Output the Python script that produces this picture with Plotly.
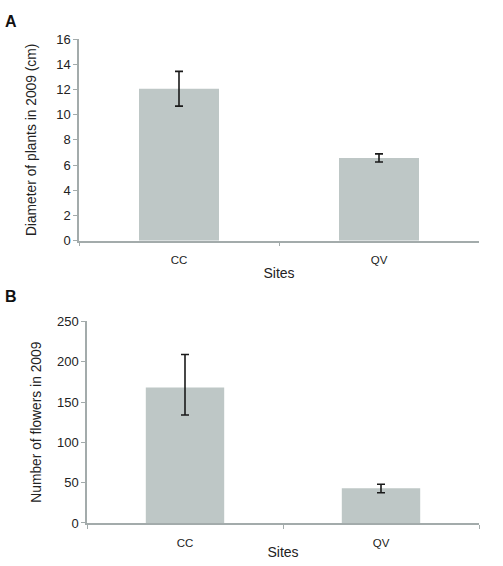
import plotly.graph_objects as go

sites = ["CC", "QV"]
diameter = [12.06, 6.57]
diameter_err_plus = [1.38, 0.32]
diameter_err_minus = [1.38, 0.32]
flowers = [168, 43]
flowers_err_plus = [41, 5]
flowers_err_minus = [34, 5.5]

W, H = 503, 566
bar_color = "#bec7c6"
axis_color = "#a3abab"
font_fam = "Liberation Sans, Arial, sans-serif"

fig = go.Figure()
fig.add_trace(go.Bar(
    x=sites, y=diameter, marker=dict(color=bar_color, line=dict(width=0)),
    error_y=dict(type="data", array=diameter_err_plus, arrayminus=diameter_err_minus,
                 color="#1a1a1a", thickness=1.6, width=4),
    xaxis="x", yaxis="y", showlegend=False))
fig.add_trace(go.Bar(
    x=sites, y=flowers, marker=dict(color=bar_color, line=dict(width=0)),
    error_y=dict(type="data", array=flowers_err_plus, arrayminus=flowers_err_minus,
                 color="#1a1a1a", thickness=1.6, width=4),
    xaxis="x2", yaxis="y2", showlegend=False))

def xax(domain, anchor, standoff):
    return dict(domain=domain, anchor=anchor, type="category",
                showline=True, linecolor=axis_color, linewidth=1.5,
                ticks="outside", tickson="boundaries", ticklen=4, tickcolor=axis_color,
                tickfont=dict(family=font_fam, size=11.5, color="#222"),
                ticklabelstandoff=8,
                title=dict(text="Sites", font=dict(family=font_fam, size=14, color="#222"), standoff=standoff),
                showgrid=False, zeroline=False, fixedrange=True)

def yax(domain, anchor, rng, dtick, title, standoff):
    return dict(domain=domain, anchor=anchor, range=rng, dtick=dtick,
                showline=True, linecolor=axis_color, linewidth=1.5,
                ticks="outside", ticklen=4, tickcolor=axis_color,
                tickfont=dict(family=font_fam, size=13, color="#222"),
                title=dict(text=title, font=dict(family=font_fam, size=13.8, color="#222"), standoff=standoff),
                showgrid=False, zeroline=False)

fig.update_layout(
    width=W, height=H, margin=dict(l=0, r=0, t=0, b=0),
    paper_bgcolor="white", plot_bgcolor="white",
    bargap=0.6,
    xaxis=xax([79 / W, 479 / W], "y", 3),
    yaxis=yax([1 - 240 / H, 1 - 33 / H], "x", [0, 16], 2, "Diameter of plants in 2009 (cm)", 16),
    xaxis2=xax([87 / W, 479 / W], "y2", 0),
    yaxis2=yax([1 - 530 / H, 1 - 323 / H], "x2", [0, 250], 50, "Number of flowers in 2009", 12),
    annotations=[
        dict(text="<b>A</b>", x=3 / W, y=1 - 15 / H, xref="paper", yref="paper",
             xanchor="left", yanchor="middle", showarrow=False,
             font=dict(family=font_fam, size=16, color="#111")),
        dict(text="<b>B</b>", x=3 / W, y=1 - 297 / H, xref="paper", yref="paper",
             xanchor="left", yanchor="middle", showarrow=False,
             font=dict(family=font_fam, size=16, color="#111")),
    ],
)

fig.write_html("out.html")
